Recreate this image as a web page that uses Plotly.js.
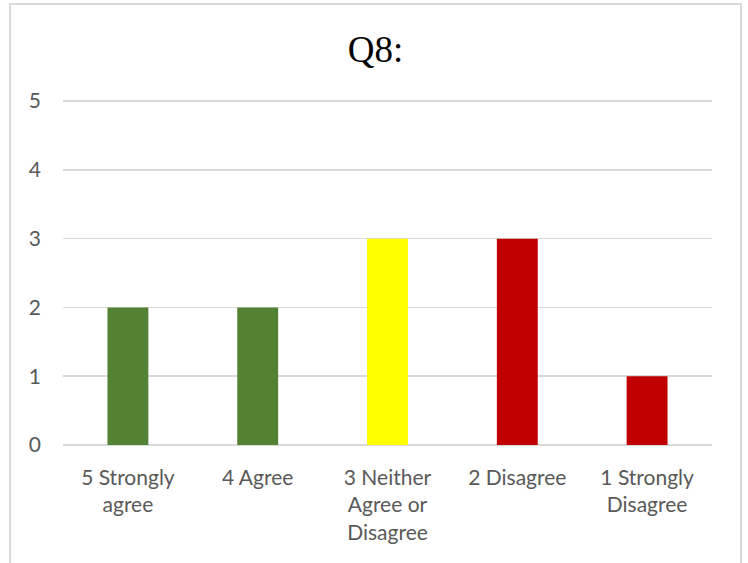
<!DOCTYPE html>
<html>
<head>
<meta charset="utf-8">
<script src="https://cdn.plot.ly/plotly-3.0.1.min.js"></script>
<style>
  html, body { margin: 0; padding: 0; background: #fff; overflow: hidden; }
  #frame {
    position: absolute; left: 9px; top: 3px;
    border: 2px solid #D9D9D9; background: #fff;
    width: 729px; height: 600px;
  }
  #chart { width: 729px; height: 600px; }
</style>
</head>
<body>
<div id="frame"><div id="chart"></div></div>
<script>
// Survey responses for question 8
const categories = [
  "5 Strongly<br>agree",
  "4 Agree",
  "3 Neither<br>Agree or<br>Disagree",
  "2 Disagree",
  "1 Strongly<br>Disagree"
];
const counts = [2, 2, 3, 3, 1];
const yTicks = [0, 1, 2, 3, 4, 5];

// agree = green, neutral = yellow, disagree = red
const barColors = ["#548235", "#548235", "#FFFF00", "#C00000", "#C00000"];

const labelFont = { family: "Lato, 'Open Sans', sans-serif", size: 21, color: "#595959" };

const trace = {
  type: "bar",
  x: categories,
  y: counts,
  width: 0.315,
  marker: { color: barColors, line: { width: 0 } },
  hoverinfo: "x+y"
};

// a little headroom above 5 so its gridline is kept
const yMax = 5.03;

const layout = {
  width: 729,
  height: 600,
  margin: { l: 51.5, r: 28, t: 94, b: 160.4 },
  paper_bgcolor: "#ffffff",
  plot_bgcolor: "#ffffff",
  showlegend: false,
  title: {
    text: "Q8:",
    font: { family: "'Liberation Serif', 'Times New Roman', serif", size: 37, color: "#000000" },
    x: 0.5, xref: "container", xanchor: "center",
    y: 1 - 44 / 600, yref: "container", yanchor: "middle"
  },
  xaxis: {
    type: "category",
    tickfont: labelFont,
    showgrid: false,
    showline: false,
    ticks: "",
    ticklabelstandoff: 18,
    fixedrange: true
  },
  yaxis: {
    range: [0, yMax],
    tickvals: yTicks,
    ticktext: yTicks.map(String),
    tickfont: labelFont,
    showgrid: true,
    gridcolor: "#D9D9D9",
    gridwidth: 1.5,
    zeroline: true,
    zerolinecolor: "#D9D9D9",
    zerolinewidth: 1.5,
    showline: false,
    ticks: "",
    ticklabelstandoff: 21,
    fixedrange: true
  }
};

Plotly.newPlot("chart", [trace], layout, { displayModeBar: false, staticPlot: true });
</script>
</body>
</html>
